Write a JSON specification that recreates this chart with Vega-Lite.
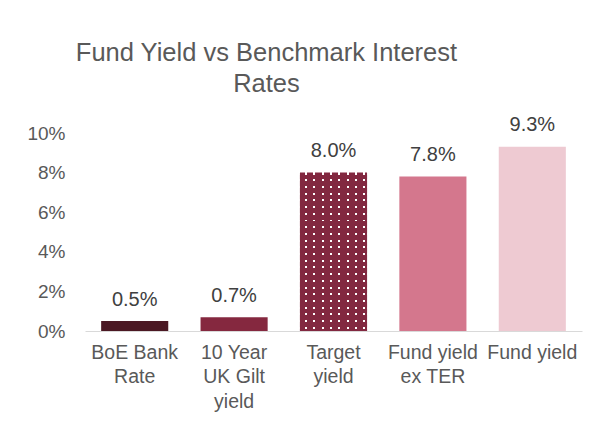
{
  "$schema": "https://vega.github.io/schema/vega-lite/v6.json",
  "width": 497,
  "height": 198,
  "autosize": {"type": "none"},
  "padding": {"left": 85, "top": 133, "right": 25, "bottom": 95},
  "background": "#ffffff",
  "config": {
    "view": {"stroke": null},
    "font": "Liberation Sans"
  },
  "title": {
    "text": ["Fund Yield vs Benchmark Interest", "Rates"],
    "fontSize": 25.5,
    "fontWeight": "normal",
    "color": "#595959",
    "font": "Liberation Sans",
    "anchor": "middle",
    "frame": "group",
    "dx": -67,
    "lineHeight": 31,
    "offset": 18
  },
  "data": {
    "values": [
      {"category": "BoE Bank Rate", "yield": 0.005},
      {"category": "10 Year UK Gilt yield", "yield": 0.007},
      {"category": "Target yield", "yield": 0.08},
      {"category": "Fund yield ex TER", "yield": 0.078},
      {"category": "Fund yield", "yield": 0.093}
    ]
  },
  "encoding": {
    "x": {
      "field": "category",
      "type": "nominal",
      "sort": null,
      "scale": {"paddingInner": 0.325, "paddingOuter": 0.1625},
      "axis": {
        "title": null,
        "labelAngle": 0,
        "labelFontSize": 19.5,
        "labelColor": "#595959",
        "labelFont": "Liberation Sans",
        "labelLineHeight": 24.5,
        "labelPadding": 12,
        "labelOverlap": false,
        "labelBound": false,
        "labelLimit": 0,
        "ticks": false,
        "domainColor": "#D9D9D9",
        "domainWidth": 1,
        "labelExpr": "datum.value == 'BoE Bank Rate' ? ['BoE Bank', 'Rate'] : datum.value == '10 Year UK Gilt yield' ? ['10 Year', 'UK Gilt', 'yield'] : datum.value == 'Target yield' ? ['Target', 'yield'] : datum.value == 'Fund yield ex TER' ? ['Fund yield', 'ex TER'] : datum.value"
      }
    },
    "y": {
      "field": "yield",
      "type": "quantitative",
      "scale": {"domain": [0, 0.1]},
      "axis": {
        "title": null,
        "format": ".0%",
        "values": [0, 0.02, 0.04, 0.06, 0.08, 0.1],
        "grid": false,
        "domain": false,
        "ticks": false,
        "labelFontSize": 19,
        "labelColor": "#595959",
        "labelFont": "Liberation Sans",
        "labelPadding": 20
      }
    }
  },
  "layer": [
    {
      "mark": {"type": "bar"},
      "encoding": {
        "color": {
          "field": "category",
          "type": "nominal",
          "legend": null,
          "scale": {
            "domain": ["BoE Bank Rate", "10 Year UK Gilt yield", "Target yield", "Fund yield ex TER", "Fund yield"],
            "range": ["#4B1823", "#85283F", "#FFFFFF", "#D4778D", "#EECAD2"]
          }
        }
      }
    },
    {
      "transform": [{"filter": "datum.category == 'Target yield'"}],
      "mark": {
        "type": "bar",
        "fill": {
          "gradient": "linear",
          "x1": 0, "y1": 0, "x2": 0, "y2": 1,
          "stops": [
            {"offset": 0.0, "color": "rgba(0,0,0,0)"},
            {"offset": 0.0126, "color": "rgba(0,0,0,0)"},
            {"offset": 0.0126, "color": "#822840"},
            {"offset": 0.0423, "color": "#822840"},
            {"offset": 0.0423, "color": "rgba(0,0,0,0)"},
            {"offset": 0.0549, "color": "rgba(0,0,0,0)"},
            {"offset": 0.0549, "color": "#822840"},
            {"offset": 0.0846, "color": "#822840"},
            {"offset": 0.0846, "color": "rgba(0,0,0,0)"},
            {"offset": 0.0972, "color": "rgba(0,0,0,0)"},
            {"offset": 0.0972, "color": "#822840"},
            {"offset": 0.1269, "color": "#822840"},
            {"offset": 0.1269, "color": "rgba(0,0,0,0)"},
            {"offset": 0.1395, "color": "rgba(0,0,0,0)"},
            {"offset": 0.1395, "color": "#822840"},
            {"offset": 0.1692, "color": "#822840"},
            {"offset": 0.1692, "color": "rgba(0,0,0,0)"},
            {"offset": 0.1818, "color": "rgba(0,0,0,0)"},
            {"offset": 0.1818, "color": "#822840"},
            {"offset": 0.2115, "color": "#822840"},
            {"offset": 0.2115, "color": "rgba(0,0,0,0)"},
            {"offset": 0.2241, "color": "rgba(0,0,0,0)"},
            {"offset": 0.2241, "color": "#822840"},
            {"offset": 0.2538, "color": "#822840"},
            {"offset": 0.2538, "color": "rgba(0,0,0,0)"},
            {"offset": 0.2664, "color": "rgba(0,0,0,0)"},
            {"offset": 0.2664, "color": "#822840"},
            {"offset": 0.2961, "color": "#822840"},
            {"offset": 0.2961, "color": "rgba(0,0,0,0)"},
            {"offset": 0.3087, "color": "rgba(0,0,0,0)"},
            {"offset": 0.3087, "color": "#822840"},
            {"offset": 0.3384, "color": "#822840"},
            {"offset": 0.3384, "color": "rgba(0,0,0,0)"},
            {"offset": 0.3510, "color": "rgba(0,0,0,0)"},
            {"offset": 0.3510, "color": "#822840"},
            {"offset": 0.3807, "color": "#822840"},
            {"offset": 0.3807, "color": "rgba(0,0,0,0)"},
            {"offset": 0.3933, "color": "rgba(0,0,0,0)"},
            {"offset": 0.3933, "color": "#822840"},
            {"offset": 0.4230, "color": "#822840"},
            {"offset": 0.4230, "color": "rgba(0,0,0,0)"},
            {"offset": 0.4356, "color": "rgba(0,0,0,0)"},
            {"offset": 0.4356, "color": "#822840"},
            {"offset": 0.4653, "color": "#822840"},
            {"offset": 0.4653, "color": "rgba(0,0,0,0)"},
            {"offset": 0.4779, "color": "rgba(0,0,0,0)"},
            {"offset": 0.4779, "color": "#822840"},
            {"offset": 0.5076, "color": "#822840"},
            {"offset": 0.5076, "color": "rgba(0,0,0,0)"},
            {"offset": 0.5202, "color": "rgba(0,0,0,0)"},
            {"offset": 0.5202, "color": "#822840"},
            {"offset": 0.5499, "color": "#822840"},
            {"offset": 0.5499, "color": "rgba(0,0,0,0)"},
            {"offset": 0.5625, "color": "rgba(0,0,0,0)"},
            {"offset": 0.5625, "color": "#822840"},
            {"offset": 0.5922, "color": "#822840"},
            {"offset": 0.5922, "color": "rgba(0,0,0,0)"},
            {"offset": 0.6048, "color": "rgba(0,0,0,0)"},
            {"offset": 0.6048, "color": "#822840"},
            {"offset": 0.6345, "color": "#822840"},
            {"offset": 0.6345, "color": "rgba(0,0,0,0)"},
            {"offset": 0.6471, "color": "rgba(0,0,0,0)"},
            {"offset": 0.6471, "color": "#822840"},
            {"offset": 0.6768, "color": "#822840"},
            {"offset": 0.6768, "color": "rgba(0,0,0,0)"},
            {"offset": 0.6894, "color": "rgba(0,0,0,0)"},
            {"offset": 0.6894, "color": "#822840"},
            {"offset": 0.7191, "color": "#822840"},
            {"offset": 0.7191, "color": "rgba(0,0,0,0)"},
            {"offset": 0.7317, "color": "rgba(0,0,0,0)"},
            {"offset": 0.7317, "color": "#822840"},
            {"offset": 0.7614, "color": "#822840"},
            {"offset": 0.7614, "color": "rgba(0,0,0,0)"},
            {"offset": 0.7740, "color": "rgba(0,0,0,0)"},
            {"offset": 0.7740, "color": "#822840"},
            {"offset": 0.8037, "color": "#822840"},
            {"offset": 0.8037, "color": "rgba(0,0,0,0)"},
            {"offset": 0.8163, "color": "rgba(0,0,0,0)"},
            {"offset": 0.8163, "color": "#822840"},
            {"offset": 0.8460, "color": "#822840"},
            {"offset": 0.8460, "color": "rgba(0,0,0,0)"},
            {"offset": 0.8586, "color": "rgba(0,0,0,0)"},
            {"offset": 0.8586, "color": "#822840"},
            {"offset": 0.8883, "color": "#822840"},
            {"offset": 0.8883, "color": "rgba(0,0,0,0)"},
            {"offset": 0.9009, "color": "rgba(0,0,0,0)"},
            {"offset": 0.9009, "color": "#822840"},
            {"offset": 0.9306, "color": "#822840"},
            {"offset": 0.9306, "color": "rgba(0,0,0,0)"},
            {"offset": 0.9432, "color": "rgba(0,0,0,0)"},
            {"offset": 0.9432, "color": "#822840"},
            {"offset": 0.9729, "color": "#822840"},
            {"offset": 0.9729, "color": "rgba(0,0,0,0)"},
            {"offset": 0.9855, "color": "rgba(0,0,0,0)"},
            {"offset": 0.9855, "color": "#822840"},
            {"offset": 1.0, "color": "#822840"}
          ]
        }
      }
    },
    {
      "transform": [{"filter": "datum.category == 'Target yield'"}],
      "mark": {
        "type": "bar",
        "fill": {
          "gradient": "linear",
          "x1": 0, "y1": 0, "x2": 1, "y2": 0,
          "stops": [
            {"offset": 0.0, "color": "#822840"},
            {"offset": 0.075, "color": "#822840"},
            {"offset": 0.075, "color": "rgba(0,0,0,0)"},
            {"offset": 0.105, "color": "rgba(0,0,0,0)"},
            {"offset": 0.105, "color": "#822840"},
            {"offset": 0.199, "color": "#822840"},
            {"offset": 0.199, "color": "rgba(0,0,0,0)"},
            {"offset": 0.229, "color": "rgba(0,0,0,0)"},
            {"offset": 0.229, "color": "#822840"},
            {"offset": 0.323, "color": "#822840"},
            {"offset": 0.323, "color": "rgba(0,0,0,0)"},
            {"offset": 0.353, "color": "rgba(0,0,0,0)"},
            {"offset": 0.353, "color": "#822840"},
            {"offset": 0.447, "color": "#822840"},
            {"offset": 0.447, "color": "rgba(0,0,0,0)"},
            {"offset": 0.477, "color": "rgba(0,0,0,0)"},
            {"offset": 0.477, "color": "#822840"},
            {"offset": 0.571, "color": "#822840"},
            {"offset": 0.571, "color": "rgba(0,0,0,0)"},
            {"offset": 0.601, "color": "rgba(0,0,0,0)"},
            {"offset": 0.601, "color": "#822840"},
            {"offset": 0.695, "color": "#822840"},
            {"offset": 0.695, "color": "rgba(0,0,0,0)"},
            {"offset": 0.725, "color": "rgba(0,0,0,0)"},
            {"offset": 0.725, "color": "#822840"},
            {"offset": 0.819, "color": "#822840"},
            {"offset": 0.819, "color": "rgba(0,0,0,0)"},
            {"offset": 0.849, "color": "rgba(0,0,0,0)"},
            {"offset": 0.849, "color": "#822840"},
            {"offset": 0.943, "color": "#822840"},
            {"offset": 0.943, "color": "rgba(0,0,0,0)"},
            {"offset": 0.973, "color": "rgba(0,0,0,0)"},
            {"offset": 0.973, "color": "#822840"},
            {"offset": 1.0, "color": "#822840"}
          ]
        }
      }
    },
    {
      "mark": {
        "type": "text",
        "baseline": "alphabetic",
        "dy": -15.5,
        "fontSize": 20,
        "font": "Liberation Sans",
        "color": "#404040"
      },
      "encoding": {
        "text": {"field": "yield", "type": "quantitative", "format": ".1%"}
      }
    }
  ]
}
